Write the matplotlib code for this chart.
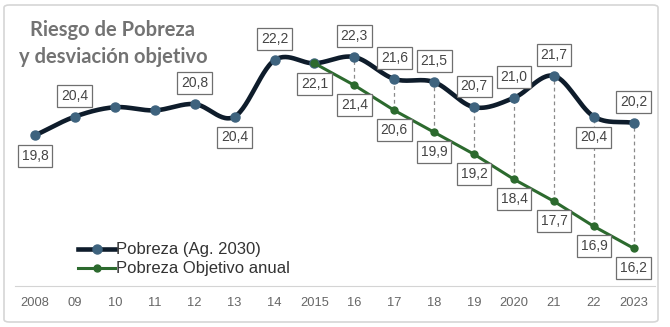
import numpy as np
import matplotlib.pyplot as plt
from matplotlib.patches import FancyBboxPatch
from matplotlib.lines import Line2D

years = list(range(2008, 2024))
tick_labels = ['2008', '09', '10', '11', '12', '13', '14', '2015',
               '16', '17', '18', '19', '2020', '21', '22', '2023']
pobreza = [19.8, 20.4, 20.7, 20.6, 20.8, 20.4, 22.2, 22.1,
           22.3, 21.6, 21.5, 20.7, 21.0, 21.7, 20.4, 20.2]
obj_years = list(range(2015, 2024))
objetivo = [22.1, 21.4, 20.6, 19.9, 19.2, 18.4, 17.7, 16.9, 16.2]

# which dark points get a label, and on which side (+1 above, -1 below)
label_side = {2008: -1, 2009: 1, 2012: 1, 2013: -1, 2014: 1, 2015: -1,
              2016: 1, 2017: 1, 2018: 1, 2019: 1, 2020: 1, 2021: 1,
              2022: -1, 2023: 1}

DARK = '#0e1c2b'
BLUE = '#3e637e'
GREEN = '#2c6a2e'


def smooth(x, y, n=30):
    # Catmull-Rom style smoothing, similar to a spreadsheet "smoothed line"
    x = np.asarray(x, float)
    y = np.asarray(y, float)
    px = np.concatenate([[2 * x[0] - x[1]], x, [2 * x[-1] - x[-2]]])
    py = np.concatenate([[2 * y[0] - y[1]], y, [2 * y[-1] - y[-2]]])
    xs, ys = [], []
    t = np.linspace(0, 1, n)
    for i in range(1, len(px) - 2):
        for arr, out in ((px, xs), (py, ys)):
            p0, p1, p2, p3 = arr[i - 1], arr[i], arr[i + 1], arr[i + 2]
            out.extend(0.5 * ((2 * p1) + (-p0 + p2) * t
                              + (2 * p0 - 5 * p1 + 4 * p2 - p3) * t ** 2
                              + (-p0 + 3 * p1 - 3 * p2 + p3) * t ** 3))
    return np.array(xs), np.array(ys)


fig = plt.figure(figsize=(6.7, 3.27), dpi=100)
frame = FancyBboxPatch((4 / 670, 5 / 327), 654 / 670, 317 / 327,
                       boxstyle='round,pad=0,rounding_size=0.008',
                       transform=fig.transFigure, facecolor='none',
                       edgecolor='#d6d6d6', lw=1.2, zorder=-1)
fig.patches.append(frame)

ax = fig.add_axes([15 / 670, 41 / 327, 640 / 670, 276 / 327])
ax.set_facecolor('none')
ax.set_xlim(2007.5, 2023.53)
ax.set_ylim(15.0, 23.8)

# dashed gaps between actual and target
ax.vlines(obj_years[1:], objetivo[1:], pobreza[8:], colors='#8a8a8a',
          linestyles=(0, (3, 2.5)), lw=0.9, zorder=1)

sx, sy = smooth(years, pobreza)
ax.plot(sx, sy, color=DARK, lw=3.3, solid_capstyle='round', zorder=3)
ax.plot(years, pobreza, 'o', color=BLUE, ms=6.5, zorder=4)
ax.plot(obj_years, objetivo, '-o', color=GREEN, lw=2.2, ms=5, zorder=5)

bbox = dict(boxstyle='square,pad=0.28', fc='white', ec='#6f6f6f', lw=0.9)
lab_font = dict(family='Liberation Sans', size=10, color='#444444')
for yr, val in zip(years, pobreza):
    if yr in label_side:
        ax.annotate(f'{val:.1f}'.replace('.', ','), (yr, val),
                    xytext=(0, 15 * label_side[yr]), textcoords='offset points',
                    ha='center', va='center', bbox=bbox, zorder=6, **lab_font)
for yr, val in zip(obj_years[1:], objetivo[1:]):
    ax.annotate(f'{val:.1f}'.replace('.', ','), (yr, val),
                xytext=(0, -14), textcoords='offset points',
                ha='center', va='center', bbox=bbox, zorder=6, **lab_font)

ax.set_xticks(years)
ax.set_xticklabels(tick_labels, family='Liberation Sans', fontsize=9.3,
                   color='#666666')
ax.tick_params(axis='x', length=0, pad=8)
ax.set_yticks([])
for s in ['top', 'left', 'right']:
    ax.spines[s].set_visible(False)
ax.spines['bottom'].set_color('#d4d4d4')

fig.text(113 / 670, 1 - 30 / 327, 'Riesgo de Pobreza', ha='center',
         va='center', family='Lato', fontweight='bold', fontsize=14.5,
         color='#737373')
fig.text(113 / 670, 1 - 57 / 327, 'y desviación objetivo', ha='center',
         va='center', family='Lato', fontweight='bold', fontsize=14.5,
         color='#737373')

handles = [Line2D([], [], color=DARK, lw=3.3, marker='o', ms=6.5,
                  markerfacecolor=BLUE, markeredgecolor=BLUE),
           Line2D([], [], color=GREEN, lw=2.2, marker='o', ms=5)]
fig.legend(handles, ['Pobreza (Ag. 2030)', 'Pobreza Objetivo anual'],
           loc='upper left', bbox_to_anchor=(70 / 670, 1 - 234 / 327),
           frameon=False, handlelength=2.2, handletextpad=0.05,
           labelspacing=0.25, borderpad=0,
           prop=dict(family='Liberation Sans', size=12), labelcolor='#333333')

fig.savefig('out.png', dpi=100)
